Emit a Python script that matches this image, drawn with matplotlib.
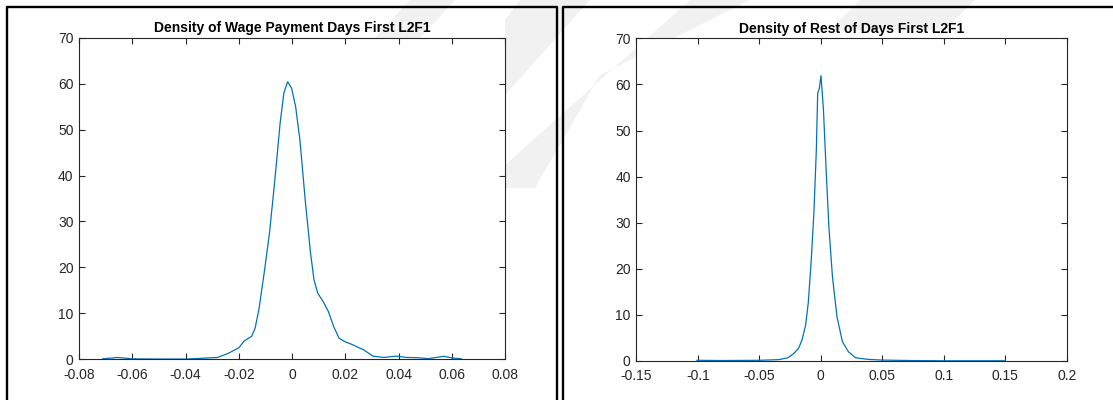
import matplotlib
matplotlib.use("Agg")
import matplotlib.pyplot as plt
from matplotlib.patches import Polygon
from matplotlib.lines import Line2D

# Kernel density estimates, wage payment days
wage_x = [-0.0711, -0.0655, -0.0600, -0.0500, -0.0400, -0.0346, -0.0280, -0.0240,
          -0.0200, -0.0180, -0.0152, -0.0139, -0.0125, -0.0105, -0.0085, -0.0065,
          -0.0045, -0.0032, -0.0030, -0.0017, -0.0002, 0.0013, 0.0029, 0.0049,
          0.0069, 0.0082, 0.0096, 0.0116, 0.0136, 0.0156, 0.0176, 0.0196, 0.0230,
          0.0270, 0.0303, 0.0344, 0.0390, 0.0430, 0.0470, 0.0510, 0.0570, 0.0600,
          0.0635]
wage_y = [0.1, 0.4, 0.1, 0.05, 0.05, 0.2, 0.4, 1.3,
          2.5, 4.0, 5.0, 6.8, 10.8, 18.8, 27.5, 39.0,
          51.5, 57.5, 58.2, 60.4, 59.0, 55.0, 47.8, 34.7,
          23.1, 17.3, 14.4, 12.6, 10.4, 7.1, 4.6, 3.9, 3.1,
          2.0, 0.7, 0.4, 0.7, 0.4, 0.35, 0.15, 0.65, 0.3,
          0.1]

# Kernel density estimates, rest of days
rest_x = [-0.1007, -0.0800, -0.0500, -0.0340, -0.0268, -0.0225, -0.0181, -0.0152,
          -0.0123, -0.0102, -0.0079, -0.0056, -0.0036, -0.0025, -0.0012, 0.0002,
          0.0022, 0.0045, 0.0066, 0.0095, 0.0132, 0.0176, 0.0225, 0.0283,
          0.0385, 0.0500, 0.0730, 0.1000, 0.1500]
rest_y = [0.15, 0.1, 0.15, 0.3, 0.7, 1.5, 2.7, 4.6,
          7.8, 12.5, 21.2, 32.0, 45.8, 58.1, 59.1, 61.9,
          54.4, 40.7, 29.1, 18.3, 9.6, 4.2, 2.0, 0.7,
          0.35, 0.2, 0.1, 0.05, 0.05]

wage_xticks = [-0.08, -0.06, -0.04, -0.02, 0, 0.02, 0.04, 0.06, 0.08]
wage_xlabels = ["-0.08", "-0.06", "-0.04", "-0.02", "0", "0.02", "0.04", "0.06", "0.08"]
rest_xticks = [-0.15, -0.1, -0.05, 0, 0.05, 0.1, 0.15, 0.2]
rest_xlabels = ["-0.15", "-0.1", "-0.05", "0", "0.05", "0.1", "0.15", "0.2"]
yticks = [0, 10, 20, 30, 40, 50, 60, 70]

titles = ["Density of Wage Payment Days First L2F1", "Density of Rest of Days First L2F1"]

plt.rcParams["font.family"] = ["Liberation Sans", "DejaVu Sans"]

W, H = 1113, 400
fig = plt.figure(figsize=(W / 100, H / 100), dpi=100)
fig.patch.set_facecolor("white")


def px(points):
    return [(x / W, 1 - y / H) for x, y in points]


# faint background emblem
shade = "#f1f1f1"
for pts in [
    [(410, 0), (455, 0), (420, 38), (375, 38)],
    [(520, 0), (590, 0), (505, 95), (505, 20)],
    [(690, 0), (750, 0), (600, 75), (535, 188), (505, 188), (505, 165)],
    [(860, 0), (975, 0), (945, 30), (830, 30)],
]:
    fig.patches.append(Polygon(px(pts), closed=True, transform=fig.transFigure,
                               facecolor=shade, edgecolor="none", zorder=-5))

# panel frames
frame_kw = dict(color="black", linewidth=1.7, transform=fig.transFigure, zorder=3)
for seg in [
    [(7, 410), (7, 7), (557, 7), (557, 410)],
    [(562.5, 410), (562.5, 7), (1120, 7)],
]:
    xs, ys = zip(*px(seg))
    fig.lines.append(Line2D(xs, ys, **frame_kw))

positions = [
    [79 / W, 1 - 359.3 / H, (505.3 - 79) / W, (359.3 - 37.7) / H],
    [636.3 / W, 1 - 361 / H, (1066.7 - 636.3) / W, (361 - 38.3) / H],
]
datasets = [(wage_x, wage_y, wage_xticks, wage_xlabels, (-0.08, 0.08)),
            (rest_x, rest_y, rest_xticks, rest_xlabels, (-0.15, 0.2))]

for pos, (xd, yd, xt, xl, xlim), title in zip(positions, datasets, titles):
    ax = fig.add_axes(pos)
    ax.set_zorder(1)
    ax.set_facecolor("white")
    ax.plot(xd, yd, color="#0072BD", linewidth=0.9)
    ax.set_xlim(*xlim)
    ax.set_ylim(0, 70)
    ax.set_xticks(xt)
    ax.set_xticklabels(xl)
    ax.set_yticks(yticks)
    ax.set_yticklabels([str(v) for v in yticks])
    ax.tick_params(direction="in", length=4, width=0.8, colors="#262626",
                   labelsize=10, top=True, right=True, pad=4)
    ax.tick_params(axis="x", pad=6)
    for sp in ax.spines.values():
        sp.set_color("#262626")
        sp.set_linewidth(0.8)
    ax.set_title(title, fontsize=10, fontweight="bold", color="black", pad=4)

fig.savefig("out.png", dpi=100, facecolor="white")
